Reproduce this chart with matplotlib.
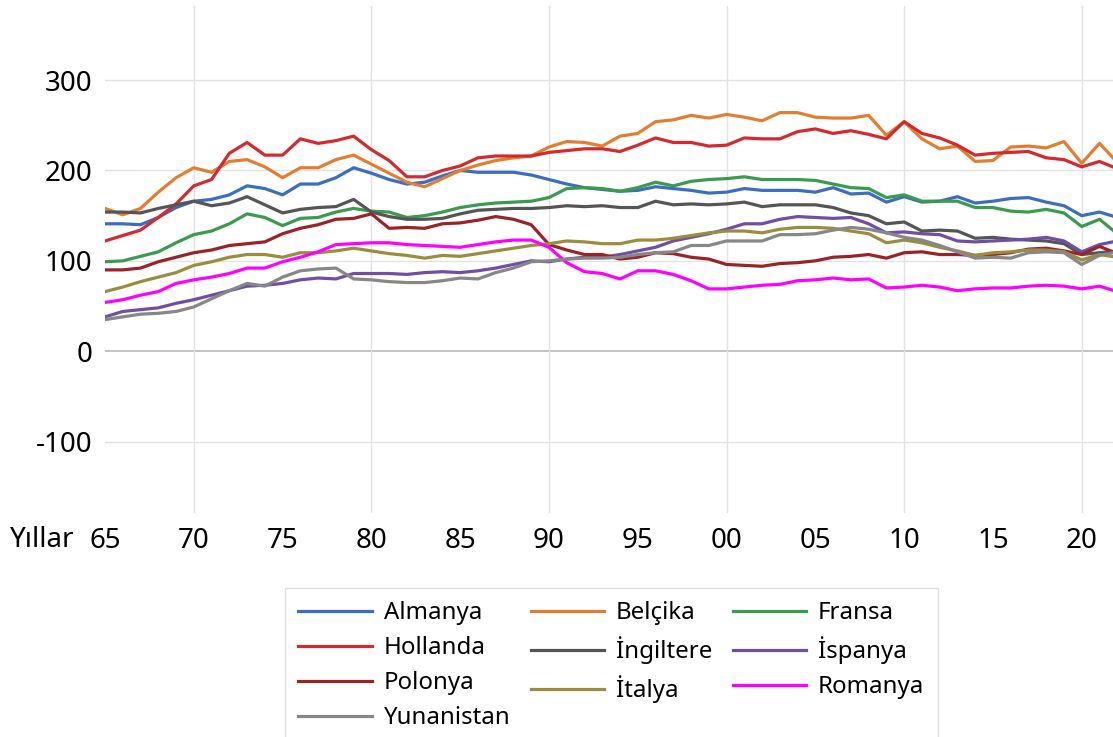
import numpy as np
import matplotlib.pyplot as plt

plt.rcParams['font.family'] = ['Noto Sans', 'DejaVu Sans']
plt.rcParams['axes.unicode_minus'] = False

# Years 1965-2022
years = np.arange(1965, 2023)

almanya = [141, 141, 140, 148, 159, 166, 168, 173, 183, 180, 173, 185, 185, 192, 203,
           197, 190, 185, 187, 194, 200, 198, 198, 198, 195, 190, 185, 181, 179,
           177, 178, 182, 180, 178, 175, 176, 180, 178, 178, 178, 176, 181, 174,
           175, 165, 171, 165, 166, 171, 164, 166, 169, 170, 165, 161, 150, 154, 148]
belcika = [158, 151, 158, 176, 192, 203, 198, 210, 212, 204, 192, 203, 203, 212, 217,
           207, 197, 187, 182, 191, 200, 206, 211, 214, 216, 226, 232, 231, 227,
           238, 241, 254, 256, 261, 258, 262, 259, 255, 264, 264, 259, 258, 258,
           261, 239, 254, 235, 224, 227, 210, 211, 226, 227, 225, 232, 208, 230, 209]
fransa = [99, 100, 105, 110, 120, 129, 133, 141, 152, 148, 139, 147, 148, 154, 158,
          155, 154, 148, 150, 154, 159, 162, 164, 165, 166, 170, 180, 181, 180,
          177, 181, 187, 183, 188, 190, 191, 193, 190, 190, 190, 189, 185, 181,
          180, 170, 173, 166, 166, 166, 159, 159, 155, 154, 157, 153, 138, 146, 130]
hollanda = [122, 128, 134, 148, 163, 183, 190, 219, 231, 217, 217, 235, 230, 233, 238,
            223, 211, 193, 193, 200, 205, 214, 216, 216, 216, 220, 222, 224, 224,
            221, 228, 236, 231, 231, 227, 228, 236, 235, 235, 243, 246, 241, 244,
            240, 235, 254, 241, 236, 228, 217, 219, 220, 221, 214, 212, 204, 210, 202]
ingiltere = [154, 154, 153, 158, 162, 166, 161, 164, 171, 162, 153, 157, 159, 160, 168,
             154, 149, 146, 146, 147, 152, 156, 157, 158, 158, 159, 161, 160, 161,
             159, 159, 166, 162, 163, 162, 163, 165, 160, 162, 162, 162, 159, 153,
             150, 141, 143, 133, 134, 133, 125, 126, 124, 123, 122, 119, 107, 109, 111]
ispanya = [38, 44, 46, 48, 53, 57, 62, 67, 72, 73, 75, 79, 81, 80, 86,
           86, 86, 85, 87, 88, 87, 89, 92, 96, 100, 99, 102, 104, 104,
           107, 111, 115, 122, 126, 130, 135, 141, 141, 146, 149, 148, 147, 148,
           141, 131, 132, 130, 129, 122, 121, 122, 123, 124, 126, 122, 110, 118, 122]
polonya = [90, 90, 92, 99, 104, 109, 112, 117, 119, 121, 130, 136, 140, 146, 147,
           152, 136, 137, 136, 141, 142, 145, 149, 146, 140, 118, 112, 107, 107,
           102, 104, 109, 108, 104, 102, 96, 95, 94, 97, 98, 100, 104, 105,
           107, 103, 109, 110, 107, 107, 106, 107, 109, 113, 114, 111, 107, 116, 108]
italya = [66, 71, 77, 82, 87, 95, 99, 104, 107, 107, 104, 109, 109, 111, 114,
          111, 108, 106, 103, 106, 105, 108, 111, 114, 117, 119, 122, 121, 119,
          119, 123, 123, 125, 128, 131, 133, 133, 131, 135, 137, 137, 136, 133,
          130, 120, 123, 120, 115, 111, 106, 109, 110, 112, 112, 110, 101, 107, 104]
romanya = [54, 57, 62, 66, 75, 79, 82, 86, 92, 92, 99, 104, 110, 118, 119,
           120, 120, 118, 117, 116, 115, 118, 121, 123, 123, 115, 98, 88, 86,
           80, 89, 89, 85, 78, 69, 69, 71, 73, 74, 78, 79, 81, 79,
           80, 70, 71, 73, 71, 67, 69, 70, 70, 72, 73, 72, 69, 72, 66]
yunanistan = [35, 38, 41, 42, 44, 49, 58, 67, 75, 72, 82, 89, 91, 92, 80,
              79, 77, 76, 76, 78, 81, 80, 87, 92, 99, 100, 102, 103, 103,
              104, 107, 109, 110, 117, 117, 122, 122, 122, 129, 129, 130, 134, 137,
              135, 131, 126, 123, 117, 110, 103, 104, 103, 109, 110, 109, 96, 106, 110]

names = ['Almanya', 'Belçika', 'Fransa', 'Hollanda', 'İngiltere', 'İspanya',
         'Polonya', 'İtalya', 'Romanya', 'Yunanistan']
series = [almanya, belcika, fransa, hollanda, ingiltere, ispanya,
          polonya, italya, romanya, yunanistan]
colors = ['#3C6EBF', '#E27E32', '#3A9A4E', '#D42A2D', '#555555', '#6F4FA3',
          '#982427', '#9A8E3E', '#FF00FF', '#878787']

fig = plt.figure(figsize=(11.13, 7.37), dpi=100)
ax = fig.add_axes([105 / 1113, 1 - 513 / 737, 1 - 105 / 1113, (513 - 6) / 737])

lines = {}
for name, vals, c in zip(names, series, colors):
    lines[name], = ax.plot(years, vals, color=c, lw=2.3, solid_joinstyle='round')

ax.set_xlim(1965, 2021.76)
ax.set_ylim(-179, 382)

for s in ax.spines.values():
    s.set_visible(False)

ax.set_yticks([-100, 0, 100, 200, 300])
for y in [-100, 100, 200, 300]:
    ax.axhline(y, color='#E3E3E3', lw=1, zorder=0)
ax.axhline(0, color='#BFBFBF', lw=1.3, zorder=0)
for x in range(1970, 2021, 10):
    ax.axvline(x, color='#E3E3E3', lw=1, zorder=0)

xt = list(range(1965, 2021, 5))
ax.set_xticks(xt)
ax.set_xticklabels(['%02d' % (x % 100) for x in xt])
ax.tick_params(axis='both', length=0, labelsize=20, colors='black')
ax.tick_params(axis='x', pad=10)
ax.tick_params(axis='y', pad=9)

fig.text(10 / 1113, 1 - 540 / 737, 'Yıllar', fontsize=20, ha='left', va='center')

# row-wise order in a 3-column legend
order = ['Almanya', 'Hollanda', 'Polonya', 'Yunanistan',
         'Belçika', 'İngiltere', 'İtalya',
         'Fransa', 'İspanya', 'Romanya']
leg = fig.legend([lines[n] for n in order], order, ncol=3, loc='upper left',
                 bbox_to_anchor=(285 / 1113, 1 - 588 / 737), borderaxespad=0,
                 fontsize=17.3, frameon=True, fancybox=False, edgecolor='#D9D9D9',
                 handlelength=3.05, handletextpad=0.5, columnspacing=0.85,
                 labelspacing=0.46, borderpad=0.55)
leg.get_frame().set_linewidth(1)

fig.savefig('out.png', dpi=100)
